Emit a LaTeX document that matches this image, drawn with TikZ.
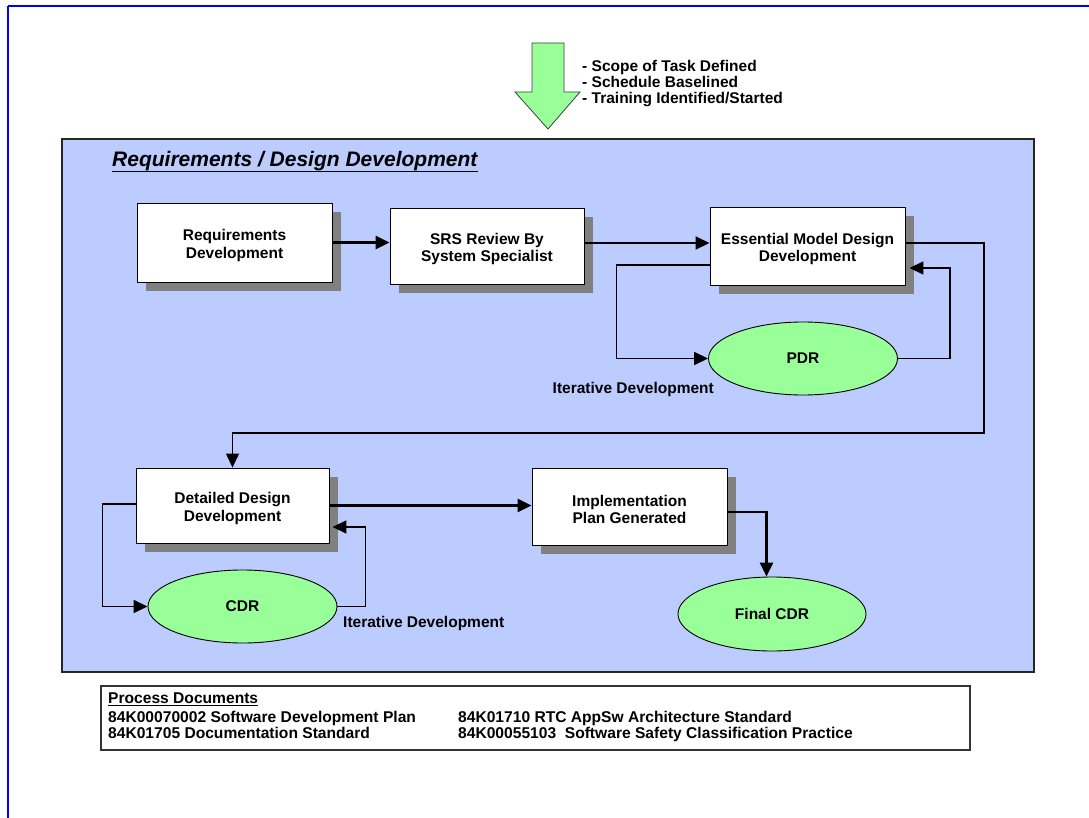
\documentclass[tikz,border=0pt]{standalone}
\usepackage{fontspec}
\setmainfont{Liberation Sans}
\usetikzlibrary{arrows.meta,shadows,shapes.geometric,calc}
\definecolor{panelblue}{RGB}{188,204,255}
\definecolor{ovalgreen}{RGB}{153,255,153}
\definecolor{shadowgray}{RGB}{128,128,128}
\definecolor{pageblue}{RGB}{0,0,255}
\newcommand{\boxstrut}{\rule{0pt}{17.5pt}}
\begin{document}
\begin{tikzpicture}[x=1pt,y=-1pt,
  boxfont/.style={font=\bfseries\fontsize{15.5}{17.5}\selectfont},
  box/.style={boxfont, draw=black, line width=0.9pt, fill=white, align=center, inner sep=0pt,
    drop shadow={shadow xshift=9pt, shadow yshift=-9pt, fill=shadowgray, opacity=1}},
  oval/.style={boxfont, ellipse, draw=black, line width=0.9pt, fill=ovalgreen, inner sep=0pt,
    minimum width=189pt, minimum height=73pt},
  lab/.style={boxfont, inner sep=0pt},
  toptext/.style={font=\bfseries\fontsize{15.5}{16}\selectfont, inner sep=0pt, anchor=base west},
  doc/.style={font=\bfseries\fontsize{15.6}{16}\selectfont, inner sep=0pt, anchor=base west},
  arr/.style={line width=1.6pt, -{Triangle[length=14pt,width=13pt]}},
  arrthick/.style={line width=2.7pt, -{Triangle[length=14pt,width=13pt]}}
]
\useasboundingbox (0,0) rectangle (1089,818);
% page border
\draw[pageblue, line width=2.5pt] (8,6) -- (1089,6);
\draw[pageblue, line width=1.5pt] (8,6) -- (8,818);
% incoming arrow
\draw[fill=ovalgreen, draw=black!75, line width=0.8pt]
  (532,43) -- (564,43) -- (564,92) -- (580,92) -- (548,129) -- (515,92) -- (532,92) -- cycle;
\node[toptext] (t1) at (582,72) {- Scope of Task Defined};
\node[toptext] (t2) at (582,88) {- Schedule Baselined};
\node[toptext] (t3) at (582,104) {- Training Identified/Started};
% panel
\draw[fill=panelblue, draw=black!85, line width=1.5pt] (62,139) rectangle (1034,672);
\node[anchor=base west, inner sep=0pt, font=\bfseries\itshape\fontsize{21}{24}\selectfont] (title) at (112,167) {Requirements / Design Development};
\draw[line width=1.5pt] ([yshift=-4.5pt]title.base west) -- ([yshift=-4.5pt]title.base east);
% boxes
\node[box, minimum width=195pt, minimum height=79pt] (req) at (234.5,242.5) {\boxstrut Requirements\\Development};
\node[box, minimum width=194pt, minimum height=76pt] (srs) at (487,246) {\boxstrut SRS Review By\\System Specialist};
\node[box, minimum width=195pt, minimum height=78pt] (ess) at (807.5,246) {\boxstrut Essential Model Design\\Development};
\node[oval] (pdr) at (803,358.5) {PDR};
\node[box, minimum width=193pt, minimum height=75pt] (det) at (232.5,505.5) {\boxstrut Detailed Design\\Development};
\node[oval] (cdr) at (242.5,606.5) {CDR};
\node[box, minimum width=195pt, minimum height=77pt] (imp) at (629.5,506.5) {\boxstrut Implementation\\Plan Generated};
\node[oval, minimum width=188pt, minimum height=74pt] (fcdr) at (772,614) {Final CDR};
\node[lab, anchor=base east] (it1) at (714,393) {Iterative Development};
\node[lab, anchor=base west] (it2) at (343,627) {Iterative Development};
% connectors
\coordinate (turnR) at (984,433);
\draw[arrthick] (req.east) -- (req.east -| srs.west);
\draw[arr] ([yshift=3pt]srs.east) -- ([yshift=3pt]srs.east -| ess.west);
\draw[arr] ([yshift=-19pt]ess.west) -- ++(-93,0) |- (pdr.west);
\draw[arr] (pdr.east) -- ++(52,0) |- ([xshift=4pt,yshift=-22pt]ess.east);
\draw[arr, line width=1.3pt] ([yshift=3pt]ess.east) -| (turnR) -| (det.north);
\draw[arr] ([yshift=1.5pt]det.west) -- ++(-33,0) |- (cdr.west);
\draw[arr] (cdr.east) -- ++(28,0) |- ([xshift=3pt,yshift=-21.5pt]det.east);
\draw[arrthick] (det.east) -- (det.east -| imp.west);
\draw[arrthick] ([yshift=-5.5pt]imp.east) -- ++(39,0) coordinate (drop) -- (drop |- fcdr.north);
% process documents
\draw[draw=black!80, line width=1.2pt] (101,686) rectangle (970,750);
\node[doc] (pd) at (108,703) {Process Documents};
\draw[line width=1pt] ([yshift=-2.5pt]pd.base west) -- ([yshift=-2.5pt]pd.base east);
\node[doc] (d1) at (108,722) {84K00070002 Software Development Plan};
\node[doc] (d2) at (108,738) {84K01705 Documentation Standard};
\node[doc] (d3) at (458,722) {84K01710 RTC AppSw Architecture Standard};
\node[doc] (d4) at (458,738) {84K00055103\ \ Software Safety Classification Practice};
\end{tikzpicture}
\end{document}
